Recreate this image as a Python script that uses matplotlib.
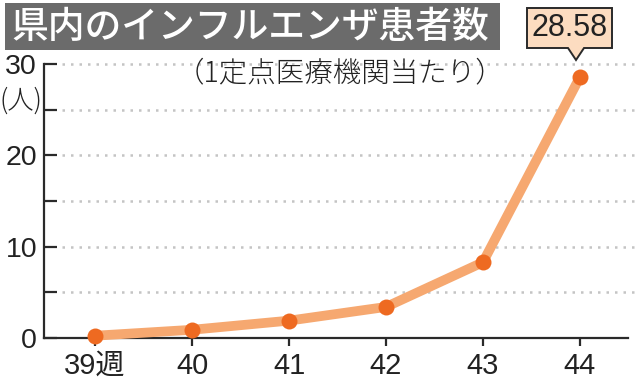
import matplotlib
matplotlib.use("Agg")
import matplotlib.pyplot as plt
from matplotlib.patches import Rectangle, Polygon
import matplotlib.transforms as mtrans

weeks = [39, 40, 41, 42, 43, 44]
week_labels = ["39週", "40", "41", "42", "43", "44"]
patients = [0.25, 0.9, 1.9, 3.4, 8.3, 28.58]
title = "県内のインフルエンザ患者数"
subtitle = "（1定点医療機関当たり）"
unit = "(人)"
callout = "28.58"

NUM_FONT = ["Liberation Sans", "Noto Sans CJK JP", "DejaVu Sans"]
JP_FONT = ["Noto Sans CJK JP", "DejaVu Sans"]

W, H = 640, 387
fig = plt.figure(figsize=(6.4, 3.87), dpi=100)
fig.patch.set_facecolor("white")

ax_l, ax_r, ax_b, ax_t = 44, 628, 338, 64
ax = fig.add_axes([ax_l / W, (H - ax_b) / H, (ax_r - ax_l) / W, (ax_b - ax_t) / H])
ax.set_facecolor("none")
ax.set_xlim(38.474, 44.495)
ax.set_ylim(0, 30)

for s in ["top", "right"]:
    ax.spines[s].set_visible(False)
for s in ["left", "bottom"]:
    ax.spines[s].set_color("#2a2a2a")
    ax.spines[s].set_linewidth(1.6)

# grid lines
trans = mtrans.blended_transform_factory(ax.transAxes, ax.transData)
for yv in [5, 10, 15, 20, 25, 30]:
    ax.plot([0.03, 1.01], [yv, yv], transform=trans, color="#c4c4c4",
            linestyle=(0, (1.0, 2.4)), linewidth=1.8, clip_on=False, zorder=1)

ax.set_yticks([0, 10, 20, 30])
ax.set_yticks([5, 15, 25], minor=True)
ax.tick_params(axis="y", which="both", direction="in", length=9, width=1.6,
               color="#2a2a2a", pad=5)
ax.set_yticklabels(["0", "10", "20", "30"])
ax.set_xticks(weeks)
ax.set_xticklabels(week_labels)
ax.tick_params(axis="x", direction="out", length=6, width=1.6, color="#2a2a2a", pad=4)
for lab in ax.get_yticklabels():
    lab.set_fontfamily(NUM_FONT)
    lab.set_fontsize(20.5)
    lab.set_color("#222222")
for lab in ax.get_xticklabels():
    lab.set_fontfamily(NUM_FONT)
    lab.set_fontsize(21)
    lab.set_color("#222222")

ax.plot(weeks, patients, color="#f6a870", linewidth=7, solid_capstyle="round",
        zorder=3, clip_on=False)
ax.plot(weeks, patients, linestyle="none", marker="o", markersize=11.5,
        color="#ee6a21", markeredgewidth=0, zorder=4, clip_on=False)

# title box
fig.patches.append(Rectangle((5 / W, (H - 50) / H), 495 / W, 47 / H,
                             transform=fig.transFigure, facecolor="#6b6b6b",
                             edgecolor="none", zorder=0))
fig.text(11 / W, (H - 27) / H, title, color="white", fontsize=26.5,
         family=JP_FONT, weight="medium", va="center", ha="left")

fig.text(340 / W, (H - 73) / H, subtitle, color="#222222", fontsize=20.5,
         family=JP_FONT, weight="light", va="center", ha="center")
fig.text(21 / W, (H - 101) / H, unit, color="#222222", fontsize=19,
         family=JP_FONT, weight="light", va="center", ha="center")

# callout
bx0, bx1, by0, by1 = 527, 612, 8, 48
px = 576
pts = [(bx0, by0), (bx1, by0), (bx1, by1), (px + 8, by1), (px, 60), (px - 8, by1), (bx0, by1)]
fig.patches.append(Polygon([(x / W, (H - y) / H) for x, y in pts], closed=True,
                           transform=fig.transFigure, facecolor="#fcdcc0",
                           edgecolor="#2a2a2a", linewidth=1.4, zorder=5))
fig.text((bx0 + bx1) / 2 / W, (H - 28) / H, callout, color="#222222", fontsize=22,
         family=NUM_FONT, va="center", ha="center", zorder=6)

fig.savefig("out.png", dpi=100)
